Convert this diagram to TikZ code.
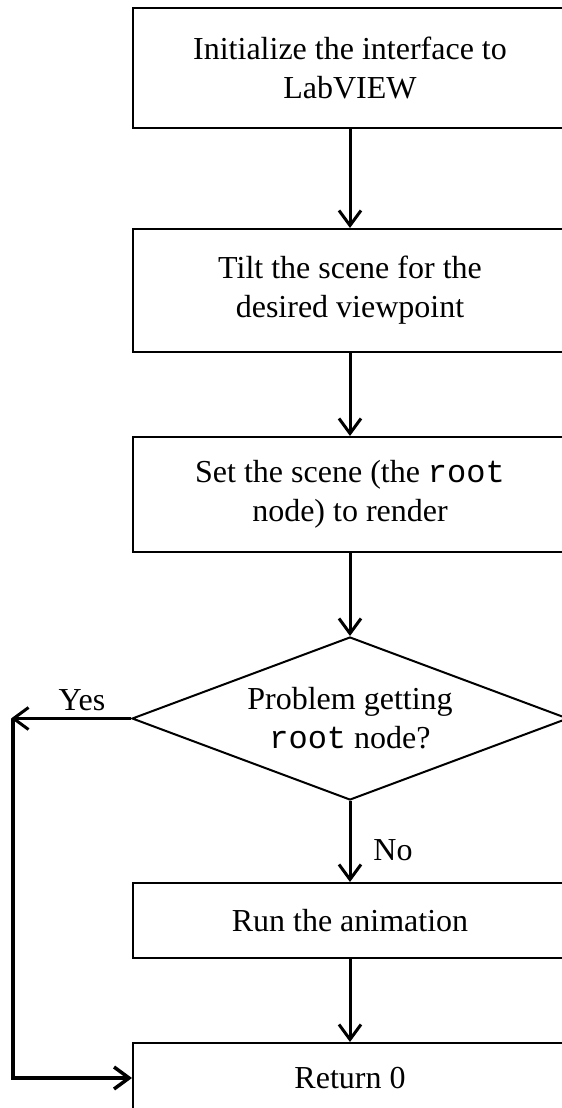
\documentclass[tikz,border=0pt]{standalone}
\usepackage{fontspec}
\setmainfont{Liberation Serif}
\setmonofont{Liberation Mono}
\usetikzlibrary{arrows.meta,shapes.geometric}
\begin{document}
\begin{tikzpicture}[x=1pt,y=-1pt,
  txt/.style={font=\fontsize{32}{39}\selectfont, align=center},
  stepbox/.style={txt, draw, line width=2pt, minimum width=434pt, inner sep=0pt},
  decision/.style={txt, draw, line width=2pt, shape=diamond, aspect=2.67,
    inner sep=0pt, minimum width=436pt, minimum height=163pt},
  flow/.style={line width=3pt, -{Straight Barb[length=15pt,width=22pt]}},
  loopflow/.style={flow, line width=3.5pt}]
  \useasboundingbox (0,0) rectangle (562,1108);
  \clip (0,0) rectangle (562,1108);

  % process steps
  \node[stepbox, minimum height=120pt] (init) at (350,68)
    {Initialize the interface to\\LabVIEW};
  \node[stepbox, minimum height=123pt] (tilt) at (350,290.5)
    {Tilt the scene for the\\desired viewpoint};
  \node[stepbox, minimum height=115pt] (scene) at (350,494.5)
    {Set the scene (the \texttt{root}\\node) to render};
  \node[decision] (check) at (350,718.5)
    {Problem getting\\\texttt{root} node?};
  \node[stepbox, minimum height=75pt] (run) at (350,920.5)
    {Run the animation};
  \node[stepbox, minimum height=70pt] (ret) at (350,1078)
    {Return 0};

  % main flow
  \draw[flow] (init) -- (tilt);
  \draw[flow] (tilt) -- (scene);
  \draw[flow] (scene) -- (check);
  \draw[flow] (check) -- (run);
  \draw[flow] (run) -- (ret);

  % failure branch
  \coordinate (yestip) at (11,718.5);
  \coordinate (looptop) at (13,718.5);
  \draw[flow] (check.west) -- (yestip);
  \draw[loopflow] (looptop) |- (ret.west);

  % branch labels
  \node[txt] (yes) at (82,700) {Yes};
  \node[txt] (no) at (393,850) {No};
\end{tikzpicture}
\end{document}
